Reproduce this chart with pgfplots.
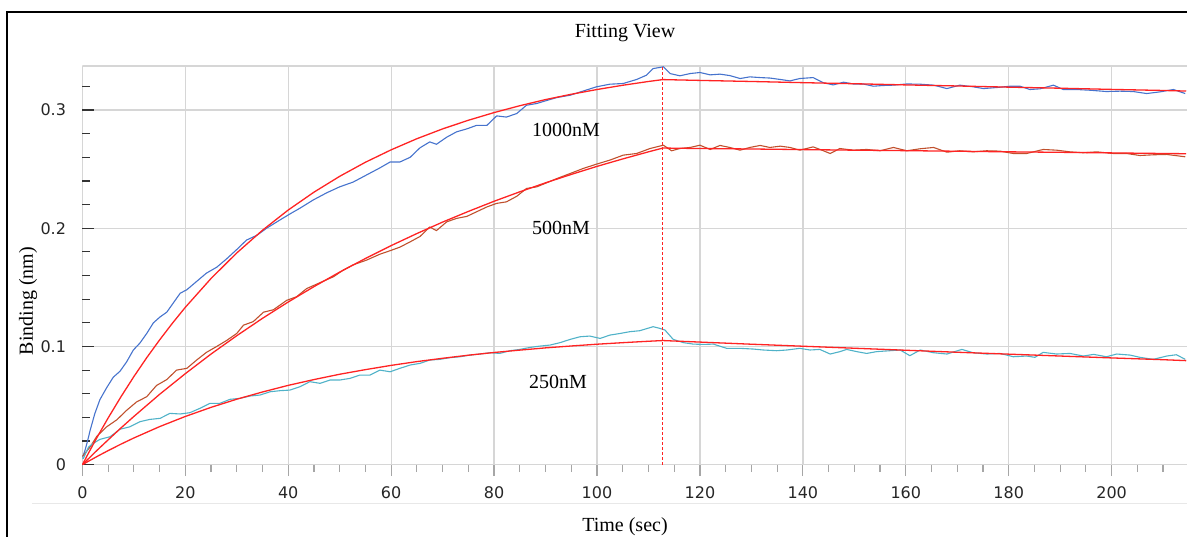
\documentclass[border=0pt]{standalone}
\usepackage{pgfplots}
\pgfplotsset{compat=1.18}
\usepackage{fontspec}
\setmainfont{Liberation Serif}
\newfontfamily\tickfont{DejaVu Sans}

\definecolor{meas1000}{RGB}{70,115,205}
\definecolor{meas500}{RGB}{192,80,45}
\definecolor{meas250}{RGB}{80,178,200}
\definecolor{fitred}{RGB}{255,35,35}
\definecolor{gridgray}{RGB}{214,214,214}

\begin{document}
\begin{tikzpicture}
\useasboundingbox (0,0) rectangle (593.5bp,268.5bp);
% outer frame (top and left edges)
\draw[black, line width=1bp] (3.5bp,0bp) -- (3.5bp,262.5bp) -- (593.5bp,262.5bp);
% faint separator under the tick labels
\draw[black!9, line width=0.5bp] (16bp,16.5bp) -- (593.5bp,16.5bp);

\begin{axis}[
  at={(41.2bp,36.15bp)}, anchor=south west,
  scale only axis, width=552.3bp, height=199.35bp,
  xmin=0, xmax=214.65, ymin=0, ymax=0.3372,
  xtick={0,20,...,200}, ytick={0,0.1,0.2,0.3},
  minor xtick={5,10,15,25,30,35,45,50,55,65,70,75,85,90,95,105,110,115,125,130,135,145,150,155,165,170,175,185,190,195,205,210},
  minor ytick={0.02,0.04,0.06,0.08,0.12,0.14,0.16,0.18,0.22,0.24,0.26,0.28,0.32},
  xtick pos=bottom, ytick pos=left,
  xtick align=outside, ytick align=inside,
  major tick length=5.75bp, minor tick length=3.75bp,
  xtick style={draw=black!35, line width=0.6bp},
  ytick style={draw=black!80, line width=0.6bp},
  xmajorgrids=true, ymajorgrids=true,
  xminorgrids=false, yminorgrids=false,
  major grid style={draw=gridgray, line width=0.65bp},
  minor grid style={draw=none},
  axis line style={draw=none},
  /pgf/number format/assume math mode=true,
  tick label style={font=\tickfont\fontsize{8bp}{9.6bp}\selectfont, text=black!85},
  xticklabel style={anchor=center, inner sep=0pt, yshift=-8.4bp},
  yticklabel style={anchor=east, inner sep=0pt, xshift=-8bp},
  clip=true,
]
% top edge of the plot area
\draw[gridgray, line width=0.65bp] (rel axis cs:0,1) -- (rel axis cs:1,1);

% measured response, 1000 nM
\addplot[meas1000, line width=0.55bp] coordinates {
(0,0.006) (0.5,0.012) (1,0.02) (1.5,0.029) (2.4,0.043) (3.4,0.055) (4.7,0.065) (6,0.074) (7.3,0.079) (8.6,0.087) (9.9,0.097) (11.2,0.103) (12.5,0.111) (13.8,0.12) (15.1,0.125) (16.4,0.129) (17.7,0.137) (19,0.145) (20.3,0.148) (22.2,0.155) (24.1,0.162) (26.1,0.167) (28,0.174) (30,0.182) (31.9,0.190) (33.9,0.194) (35.8,0.2) (38.4,0.207) (40.3,0.212) (42.3,0.217) (44.9,0.224) (47.5,0.230) (50,0.235) (52.6,0.239) (55.2,0.245) (57.8,0.251) (59.8,0.256) (61.7,0.256) (63.7,0.260) (65.6,0.268) (67.5,0.273) (68.8,0.271) (70.8,0.277) (72.7,0.2815) (74.7,0.284) (76.6,0.287) (78.6,0.287) (80.5,0.295) (82.4,0.294) (84.4,0.297) (86.3,0.304) (88.3,0.3055) (90.2,0.308) (92.2,0.3105) (94.8,0.3125) (97.3,0.316) (99.9,0.3196) (102.5,0.3218) (105.1,0.3224) (107.7,0.3258) (109.6,0.3294) (110.9,0.335) (112.9,0.3365) (114.2,0.3308) (116.1,0.3289) (118.1,0.3308) (120,0.3317) (122,0.3297) (123.9,0.3303) (125.8,0.3291) (127.8,0.3266) (129.7,0.328) (131.7,0.3274) (133.6,0.327) (135.6,0.3258) (137.5,0.3246) (139.4,0.3266) (142,0.3274) (144,0.323) (145.9,0.3212) (147.9,0.3235) (149.8,0.322) (151.7,0.322) (153.7,0.3201) (155.6,0.3207) (157.6,0.321) (160.2,0.322) (162.8,0.3218) (165.4,0.321) (168,0.3181) (170.5,0.321) (173.1,0.3196) (175.1,0.3181) (177.7,0.319) (180.3,0.3201) (182.2,0.3201) (184.1,0.3173) (186.1,0.3179) (188.7,0.321) (190.6,0.3173) (193.2,0.3173) (195.8,0.3167) (199,0.3156) (201.6,0.3159) (204.2,0.3156) (206.8,0.3139) (209.4,0.3153) (212,0.3173) (214.3,0.3139)
};

% measured response, 500 nM
\addplot[meas500, line width=0.55bp] coordinates {
(0,0.007) (0.2,0.008) (1.5,0.015) (2.8,0.024) (4.7,0.032) (6.7,0.038) (8.6,0.046) (10.5,0.053) (12.5,0.0575) (14.4,0.067) (16.4,0.072) (18.3,0.080) (20.3,0.0815) (22.2,0.0885) (24.1,0.095) (26.1,0.100) (28,0.105) (30,0.111) (31.3,0.118) (33.2,0.121) (35.2,0.129) (37.1,0.131) (39.7,0.139) (41.6,0.142) (43.6,0.149) (46.2,0.154) (48.8,0.159) (50.7,0.1646) (52.6,0.169) (55.2,0.173) (57.8,0.178) (59.8,0.181) (61.7,0.184) (63.7,0.1885) (65.6,0.193) (67.5,0.201) (68.8,0.198) (70.8,0.2054) (72.7,0.2083) (74.7,0.210) (76.6,0.2139) (78.6,0.218) (80.5,0.221) (82.4,0.2223) (84.4,0.227) (86.3,0.2336) (88.3,0.235) (90.2,0.2384) (92.2,0.242) (94.8,0.2463) (97.3,0.2505) (99.9,0.2542) (102.5,0.2576) (105.1,0.2618) (107.7,0.2632) (110.3,0.2674) (112.9,0.2702) (114.5,0.2655) (116.1,0.2674) (118.1,0.2683) (120,0.2702) (122,0.2666) (123.9,0.27) (125.8,0.2683) (127.8,0.266) (129.7,0.2683) (131.7,0.27) (133.6,0.2683) (135.6,0.2694) (137.5,0.2683) (139.4,0.266) (142,0.2688) (144,0.2655) (145.3,0.2632) (147.2,0.2674) (149.8,0.266) (152.4,0.2666) (155,0.2655) (157.6,0.2683) (160.2,0.2655) (162.8,0.2672) (165.4,0.2683) (168,0.2643) (170.5,0.2655) (173.1,0.2646) (175.7,0.2655) (178.3,0.2652) (180.9,0.2632) (183.5,0.2632) (186.7,0.2666) (189.3,0.266) (191.9,0.2646) (194.5,0.2638) (197.1,0.2646) (200.3,0.2632) (202.9,0.2632) (205.5,0.2615) (208.1,0.2621) (210.7,0.2624) (214.3,0.2604)
};

% measured response, 250 nM
\addplot[meas250, line width=0.55bp] coordinates {
(0,0.005) (0.2,0.0054) (1.2,0.015) (2.1,0.018) (3.4,0.0214) (5.4,0.0237) (7.3,0.030) (9.2,0.032) (11.2,0.0364) (13.1,0.0383) (15.1,0.0392) (17,0.0434) (19,0.0429) (20.9,0.044) (22.8,0.0476) (24.8,0.0519) (26.7,0.0519) (28.7,0.0553) (30.6,0.0561) (32.6,0.0581) (34.5,0.0589) (36.5,0.0617) (38.4,0.0626) (40.3,0.0631) (42.3,0.066) (44.2,0.0702) (46.2,0.0688) (48.1,0.0716) (50,0.0716) (52,0.073) (53.9,0.0758) (55.9,0.0758) (57.8,0.08) (59.8,0.0786) (61.7,0.0815) (63.7,0.0843) (65.6,0.0857) (67.5,0.0885) (69.5,0.0891) (71.4,0.0905) (73.4,0.0913) (75.3,0.0927) (77.3,0.0936) (79.2,0.0947) (81.1,0.0941) (83.1,0.0964) (85,0.0975) (87,0.0992) (88.9,0.1003) (90.9,0.1012) (92.8,0.1032) (94.8,0.106) (96.7,0.1082) (98.6,0.1088) (100.6,0.1068) (102.5,0.1096) (104.5,0.111) (106.4,0.1125) (108.3,0.1133) (110.9,0.1167) (112.2,0.1153) (113.2,0.1139) (114.8,0.106) (116.8,0.1032) (118.7,0.102) (120.7,0.1017) (122.6,0.102) (125.2,0.0984) (127.8,0.0984) (130.4,0.0978) (132.3,0.097) (134.9,0.0964) (136.9,0.097) (139.4,0.0984) (141.4,0.097) (143.3,0.0975) (145.3,0.0936) (147.2,0.0956) (148.5,0.0975) (150.5,0.0956) (152.4,0.0941) (154.3,0.0956) (156.9,0.0964) (158.9,0.097) (160.8,0.0922) (162.8,0.097) (165.4,0.0947) (168,0.0936) (170.9,0.0975) (173.1,0.0947) (175.7,0.0936) (178.3,0.0941) (180.9,0.0913) (183.5,0.0919) (185.1,0.0908) (186.7,0.095) (189.3,0.0936) (191.9,0.0941) (194.5,0.0919) (196.5,0.0933) (199,0.0913) (201,0.0936) (203.6,0.0927) (205.5,0.0908) (208.1,0.0891) (210.7,0.0919) (212.6,0.093) (214.3,0.0891)
};

% fitted curves (association up to 112.8 s, then dissociation)
\addplot[fitred, line width=0.65bp] coordinates {
(0,0) (1,0.0083) (2,0.0164) (3,0.0243) (5,0.0395) (7.5,0.0575) (10,0.0745) (12.5,0.0905) (15,0.1055) (17.5,0.1197) (20,0.1331) (25,0.1575) (30,0.1791) (35,0.1983) (40,0.2154) (45,0.2305) (50,0.2439) (55,0.2558) (60,0.2663) (65,0.2757) (70,0.2840) (75,0.2913) (80,0.2978) (85,0.3036) (90,0.3088) (95,0.3133) (100,0.3173) (105,0.3209) (110,0.3241) (112.8,0.3257) (120,0.3250) (130,0.3241) (140,0.3231) (150,0.3222) (160,0.3212) (170,0.3203) (180,0.3193) (190,0.3184) (200,0.3174) (210,0.3165) (214.5,0.3160)
};
\addplot[fitred, line width=0.65bp] coordinates {
(0,0) (1,0.0043) (2,0.0086) (3,0.0128) (5,0.0210) (7.5,0.0311) (10,0.0408) (15,0.0595) (20,0.0770) (25,0.0936) (30,0.1091) (35,0.1238) (40,0.1376) (45,0.1506) (50,0.1629) (55,0.1744) (60,0.1853) (65,0.1955) (70,0.2052) (75,0.2142) (80,0.2228) (85,0.2308) (90,0.2384) (95,0.2455) (100,0.2523) (105,0.2586) (110,0.2646) (112.8,0.2678) (120,0.2674) (130,0.2670) (140,0.2665) (150,0.2660) (160,0.2656) (170,0.2651) (180,0.2646) (190,0.2642) (200,0.2637) (210,0.2632) (214.5,0.2630)
};
\addplot[fitred, line width=0.65bp] coordinates {
(0,0) (1,0.0025) (2,0.0049) (3,0.0073) (5,0.0119) (7.5,0.0174) (10,0.0226) (15,0.0322) (20,0.0408) (25,0.0485) (30,0.0554) (35,0.0615) (40,0.0671) (45,0.0720) (50,0.0765) (55,0.0804) (60,0.0840) (65,0.0872) (70,0.0900) (75,0.0926) (80,0.0949) (85,0.0969) (90,0.0988) (95,0.1004) (100,0.1019) (105,0.1032) (110,0.1044) (112.8,0.1050) (120,0.1037) (130,0.1019) (140,0.1002) (150,0.0985) (160,0.0968) (170,0.0951) (180,0.0935) (190,0.0919) (200,0.0903) (210,0.0888) (214.5,0.0880)
};

% end of association step
\addplot[fitred, line width=0.55bp, dash pattern=on 1.5bp off 1bp] coordinates {(112.8,0) (112.8,0.3372)};

\node[font=\fontsize{10bp}{12bp}\selectfont] at (axis cs:94,0.283) {1000nM};
\node[font=\fontsize{10bp}{12bp}\selectfont] at (axis cs:93,0.2) {500nM};
\node[font=\fontsize{10bp}{12bp}\selectfont] at (axis cs:92.4,0.0696) {250nM};
\end{axis}

\node[font=\fontsize{10bp}{12bp}\selectfont] at (312.5bp,252bp) {Fitting View};
\node[font=\fontsize{10bp}{12bp}\selectfont, rotate=90] at (14bp,118bp) {Binding (nm)};
\node[font=\fontsize{10bp}{12bp}\selectfont] at (312.5bp,5bp) {Time (sec)};
\end{tikzpicture}
\end{document}
